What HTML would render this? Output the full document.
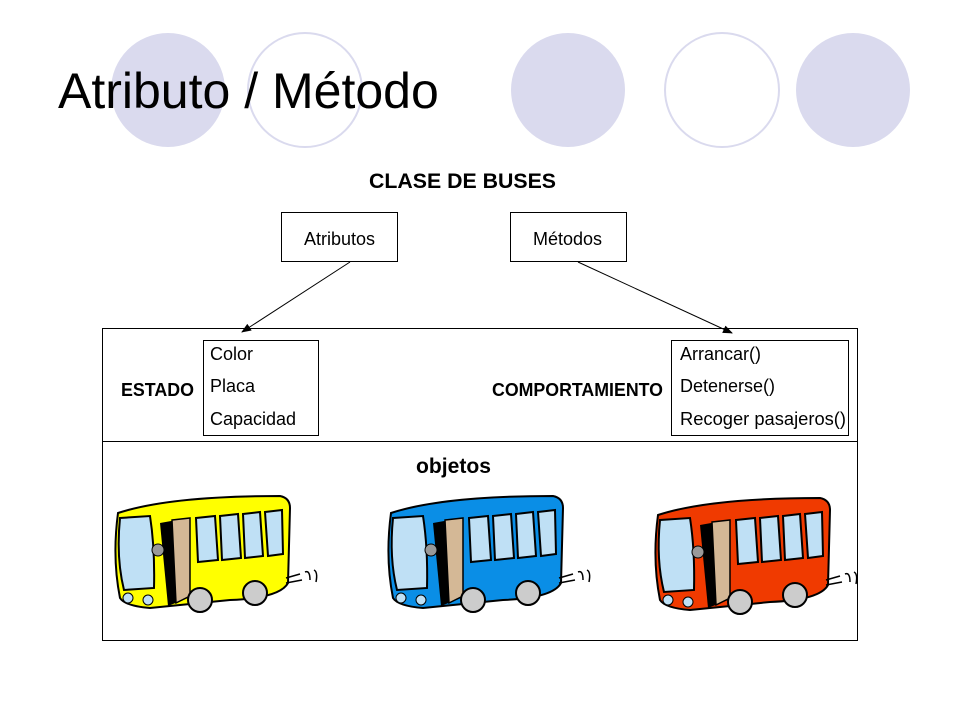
<!DOCTYPE html>
<html><head><meta charset="utf-8"><style>
body{margin:0;background:#fff;}
svg{display:block;font-family:"Liberation Sans",sans-serif;}
</style></head><body>
<svg width="960" height="720" viewBox="0 0 960 720">
<defs>
<marker id="ar" markerWidth="10" markerHeight="8" refX="9" refY="4" orient="auto"><path d="M0,0 L10,4 L0,8 z" fill="#000"/></marker>
<g id="bus">
 <path d="M8,25 Q60,8 170,8 Q180,10 180,20 L178,95 Q170,110 120,112 L40,120 Q15,118 10,110 Q2,70 8,25 Z" fill="var(--c)" stroke="#000" stroke-width="2"/>
 <path d="M10,30 L40,28 Q45,60 44,100 L14,102 Q6,70 10,30 Z" fill="#bfe0f5" stroke="#000" stroke-width="2"/>
 <path d="M50,35 L78,30 L78,110 L58,118 Z" fill="#000"/>
 <path d="M62,32 L80,30 L80,108 L66,115 Z" fill="#d4b896" stroke="#000" stroke-width="1.5"/>
 <path d="M86,30 L105,28 L108,72 L88,74 Z M110,28 L128,26 L131,70 L112,72 Z M133,26 L150,24 L153,68 L135,70 Z M155,24 L172,22 L173,66 L158,68 Z" fill="#bfe0f5" stroke="#000" stroke-width="2"/>
 <circle cx="48" cy="62" r="6" fill="#999" stroke="#000"/>
 <circle cx="18" cy="110" r="5" fill="#bfe0f5" stroke="#000"/><circle cx="38" cy="112" r="5" fill="#bfe0f5" stroke="#000"/>
 <circle cx="90" cy="112" r="12" fill="#ccc" stroke="#000" stroke-width="2"/>
 <circle cx="145" cy="105" r="12" fill="#ccc" stroke="#000" stroke-width="2"/>
 <path d="M176,90 L190,86 M176,95 L192,92 M195,84 Q200,82 200,92 M204,82 Q208,84 206,94" stroke="#000" fill="none" stroke-width="1.5"/>
</g>
</defs>
<circle cx="168" cy="90" r="57" fill="#dadaee"/>
<circle cx="305" cy="90" r="57" fill="#fff" stroke="#dadaee" stroke-width="2"/>
<circle cx="568" cy="90" r="57" fill="#dadaee"/>
<circle cx="722" cy="90" r="57" fill="#fff" stroke="#dadaee" stroke-width="2"/>
<circle cx="853" cy="90" r="57" fill="#dadaee"/>
<text x="58" y="108" font-size="50" fill="#000">Atributo / Método</text>
<text x="369" y="188" font-size="21" font-weight="bold" textLength="187" lengthAdjust="spacingAndGlyphs">CLASE DE BUSES</text>
<rect x="281.5" y="212.5" width="116" height="49" fill="#fff" stroke="#000"/>
<text x="304" y="245" font-size="18">Atributos</text>
<rect x="510.5" y="212.5" width="116" height="49" fill="#fff" stroke="#000"/>
<text x="533" y="245" font-size="18">Métodos</text>
<line x1="350" y1="262" x2="242" y2="332" stroke="#000" marker-end="url(#ar)"/>
<line x1="578" y1="262" x2="732" y2="333" stroke="#000" marker-end="url(#ar)"/>
<rect x="102.5" y="328.5" width="755" height="312" fill="none" stroke="#000"/>
<line x1="102" y1="441.5" x2="857" y2="441.5" stroke="#000"/>
<rect x="203.5" y="340.5" width="115" height="95" fill="#fff" stroke="#000"/>
<text x="210" y="360" font-size="18">Color</text>
<text x="210" y="392" font-size="18">Placa</text>
<text x="210" y="425" font-size="18">Capacidad</text>
<rect x="671.5" y="340.5" width="177" height="95" fill="#fff" stroke="#000"/>
<text x="680" y="360" font-size="18">Arrancar()</text>
<text x="680" y="392" font-size="18">Detenerse()</text>
<text x="680" y="425" font-size="18" textLength="166" lengthAdjust="spacingAndGlyphs">Recoger pasajeros()</text>
<text x="121" y="396" font-size="18" font-weight="bold" textLength="73" lengthAdjust="spacingAndGlyphs">ESTADO</text>
<text x="492" y="396" font-size="18" font-weight="bold" textLength="171" lengthAdjust="spacingAndGlyphs">COMPORTAMIENTO</text>
<text x="416" y="473" font-size="21" font-weight="bold" textLength="75" lengthAdjust="spacingAndGlyphs">objetos</text>
<use href="#bus" x="110" y="488" style="--c:#ffff00"/>
<use href="#bus" x="383" y="488" style="--c:#0a8ee6"/>
<use href="#bus" x="650" y="490" style="--c:#f03a00"/>
</svg>
</body></html>
